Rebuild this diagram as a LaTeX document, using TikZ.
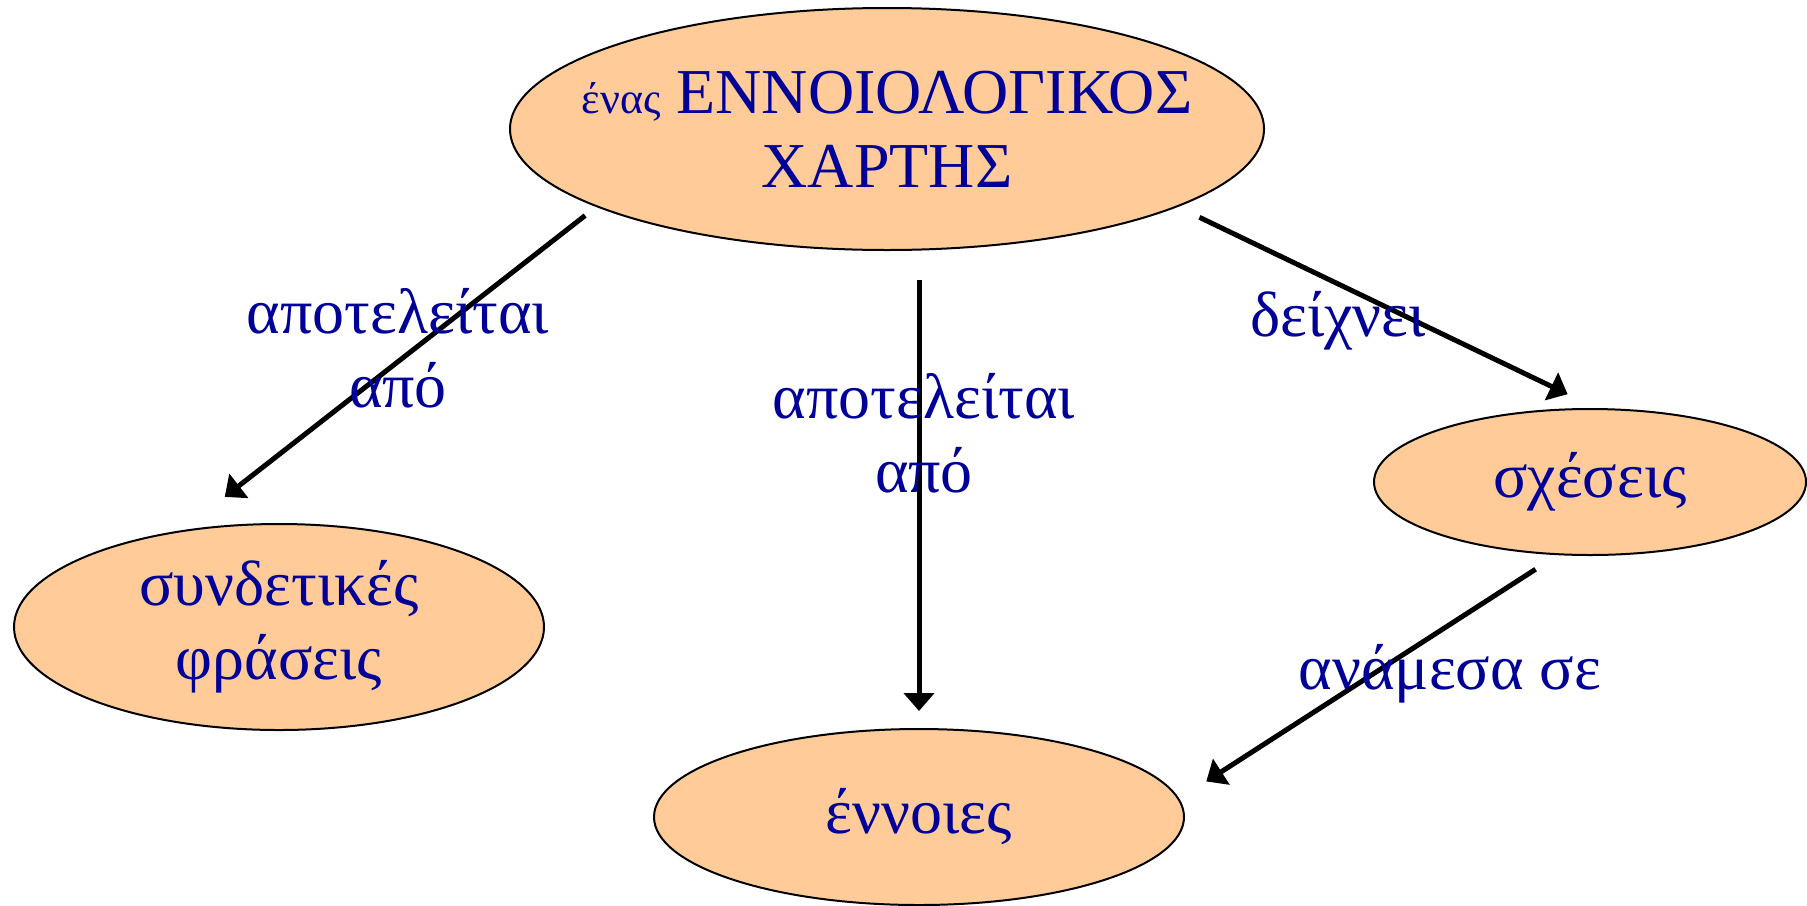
\documentclass[tikz,border=0pt]{standalone}
\usepackage{fontspec}
\setmainfont{Liberation Serif}
\usetikzlibrary{shapes.geometric,arrows.meta}

\definecolor{peach}{HTML}{FFCC99}
\definecolor{ink}{HTML}{000099}

\tikzset{
  concept/.style={ellipse, draw=black, line width=1pt, fill=peach, inner sep=0pt},
  word/.style={text=ink, font=\fontsize{32}{37}\selectfont, align=center, inner sep=0pt},
  link/.style={-{Triangle[width=15pt,length=9pt]}, line width=2.5pt},
}

\begin{document}
\begin{tikzpicture}[x=0.5pt,y=-0.5pt]
    \useasboundingbox (0,0) rectangle (1807,905);

    % the four concepts
    \node[concept, minimum width=377pt, minimum height=121pt] (map) at (887,129) {};
    \node[concept, minimum width=265pt, minimum height=103pt] (phrases) at (279,627) {};
    \node[concept, minimum width=216pt, minimum height=73pt] (relations) at (1590,482) {};
    \node[concept, minimum width=265pt, minimum height=88pt] (concepts) at (919,817) {};

    \node[word] (maptext) at (map) {{\fontsize{22}{24}\selectfont ένας} ΕΝΝΟΙΟΛΟΓΙΚΟΣ\\ΧΑΡΤΗΣ};
    \node[word] (phrasestext) at (phrases) {συνδετικές\\φράσεις};
    \node[word] (relationstext) at (relations) {σχέσεις};
    \node[word] (conceptstext) at (concepts) {έννοιες};

    % links
    \draw[link, shorten <=7pt, shorten >=27pt] (map.195.7) -- (phrases.135.4);
    \draw[link, shorten <=14.5pt, shorten >=8.5pt] (map.south -| concepts.north) -- (concepts.north);
    \draw[link, shorten <=12pt, shorten >=16pt] (map.345.1) -- (relations.85.5);
    \draw[link, shorten <=13pt, shorten >=16pt] (relations.246.7) -- (concepts.4.9);

    % link phrases
    \node[word] (madeleft) at (398,348) {αποτελείται\\από};
    \node[word] (mademid) at (924,433) {αποτελείται\\από};
    \node[word, anchor=base] (shows) at (1338,336) {δείχνει};
    \node[word, anchor=base] (between) at (1450,689) {ανάμεσα σε};
\end{tikzpicture}
\end{document}
